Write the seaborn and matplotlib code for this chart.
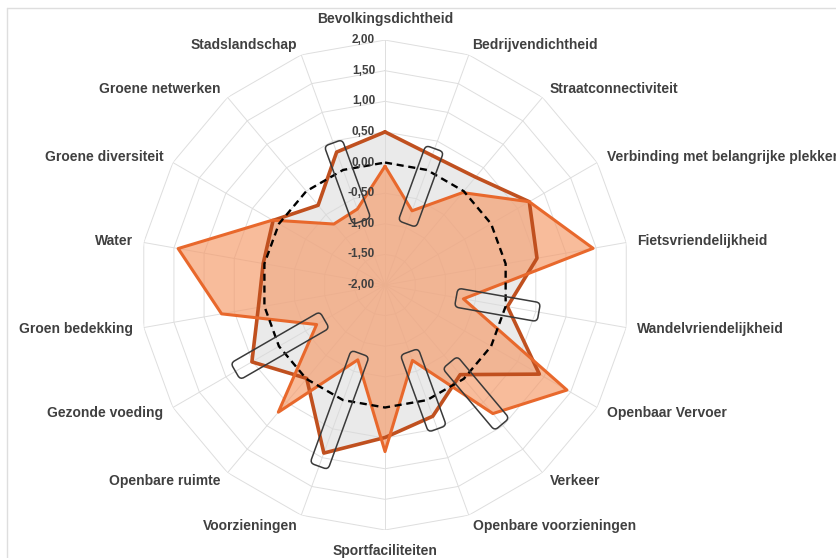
import matplotlib
matplotlib.use('Agg')

import numpy as np
import pandas as pd
import matplotlib.pyplot as plt
import seaborn as sns
from matplotlib.patches import FancyBboxPatch
from matplotlib.lines import Line2D
from matplotlib.transforms import Affine2D

# --- data ---
categorieen = [
    "Bevolkingsdichtheid", "Bedrijvendichtheid", "Straatconnectiviteit",
    "Verbinding met belangrijke plekken", "Fietsvriendelijkheid", "Wandelvriendelijkheid",
    "Openbaar Vervoer", "Verkeer", "Openbare voorzieningen", "Sportfaciliteiten",
    "Voorzieningen", "Openbare ruimte", "Gezonde voeding", "Groen bedekking",
    "Water", "Groene diversiteit", "Groene netwerken", "Stadslandschap",
]
reeks_donker = [0.50, 0.25, 0.30, 0.72, 0.52, 0.03, 0.91, -0.09, 0.28,
                0.49, 0.92, -0.01, 0.51, 0.10, 0.02, 0.11, -0.30, 0.31]
reeks_oranje = [-0.06, -0.71, -0.03, 0.72, 1.45, -0.70, 1.43, 0.74, -0.69,
                0.72, -0.70, 0.71, -0.71, 0.71, 1.43, 0.12, -0.70, -0.68]
gemiddelde = [0.0] * 18

ring_waarden = [2.0, 1.5, 1.0, 0.5, 0.0, -0.5, -1.0, -1.5, -2.0]
ring_labels = ["2,00", "1,50", "1,00", "0,50", "0,00", "-0,50", "-1,00", "-1,50", "-2,00"]

# omkaderde punten: categorie-index en bereik langs de as
kader_index = [17, 1, 5, 7, 8, 10, 12]
kader_van = [-0.89, -0.94, -0.82, -0.35, -0.84, -0.81, -0.86]
kader_tot = [0.47, 0.37, 0.55, 0.97, 0.50, 1.15, 0.82]


def gesloten(waarden):
    return list(waarden) + [waarden[0]]


n = len(categorieen)
hoeken = np.linspace(0, 2 * np.pi, n, endpoint=False)
hoeken_dicht = gesloten(hoeken)
hoeken_dicht[-1] = 2 * np.pi

df = pd.DataFrame({
    "hoek": hoeken_dicht,
    "donker": gesloten(reeks_donker),
    "oranje": gesloten(reeks_oranje),
    "gemiddelde": gesloten(gemiddelde),
})

sns.set_theme(style="white")
plt.rcParams['font.family'] = ['Liberation Sans', 'DejaVu Sans']

fig = plt.figure(figsize=(8.37, 5.58), dpi=100)
rect = [0.1673, 0.0502, 0.5854, 0.878]
ax = fig.add_axes(rect, projection='polar')
ax.set_theta_zero_location('N')
ax.set_theta_direction(-1)
ax.set_ylim(-2, 2)
ax.grid(False)
ax.set_xticks([])
ax.set_yticks([])
ax.spines['polar'].set_visible(False)
ax.patch.set_alpha(0)

# veelhoekig raster
grijs = "#DEDEDE"
for v in ring_waarden:
    ax.plot(hoeken_dicht, [v] * (n + 1), color=grijs, lw=0.7, zorder=0)
for h in hoeken:
    ax.plot([h, h], [-2, 2], color=grijs, lw=0.7, zorder=0)

# vlakken
ax.fill(df["hoek"], df["donker"], color="#D9D9D9", alpha=0.55, lw=0, zorder=1)
ax.fill(df["hoek"], df["oranje"], color="#F59C6C", alpha=0.68, lw=0, zorder=2)

# lijnen
sns.lineplot(data=df, x="hoek", y="donker", ax=ax, sort=False, estimator=None,
             color="#C0501F", lw=2.6, zorder=4, legend=False)
sns.lineplot(data=df, x="hoek", y="oranje", ax=ax, sort=False, estimator=None,
             color="#E8682C", lw=2.2, zorder=5, legend=False)
sns.lineplot(data=df, x="hoek", y="gemiddelde", ax=ax, sort=False, estimator=None,
             color="black", lw=1.7, linestyle=(0, (3, 2)), zorder=6, legend=False)
ax.set_xlabel("")
ax.set_ylabel("")

# as-labels langs de bovenste spaak
for v, lbl in zip(ring_waarden, ring_labels):
    ax.annotate(lbl, xy=(0, v), xytext=(-10, 0), textcoords='offset pixels',
                ha='right', va='center', fontsize=8.5, fontweight='bold',
                color="#404040", zorder=7)

# categorie-labels
for h, cat in zip(hoeken, categorieen):
    s, c = np.sin(h), np.cos(h)
    if abs(s) < 0.01:
        ha, pad = 'center', 21
    else:
        ha, pad = ('left' if s > 0 else 'right'), 11
    ax.annotate(cat, xy=(h, 2.0), xytext=(pad * s, pad * c), textcoords='offset pixels',
                ha=ha, va='center', fontsize=10, fontweight='bold', color="#404040",
                annotation_clip=False)

# kaders als overlay in cartesische coordinaten
ov = fig.add_axes(rect)
ov.set_xlim(-1, 1)
ov.set_ylim(-1, 1)
ov.axis('off')
ov.patch.set_alpha(0)
breedte = 0.078
for i, lo, hi in zip(kader_index, kader_van, kader_tot):
    r0, r1 = (lo + 2) / 4, (hi + 2) / 4
    graden = 90 - np.degrees(hoeken[i])
    kader = FancyBboxPatch((r0, -breedte / 2), r1 - r0, breedte,
                           boxstyle="round,pad=0,rounding_size=0.018",
                           fc='none', ec="#3A3A3A", lw=1.1,
                           transform=Affine2D().rotate_deg(graden) + ov.transData)
    ov.add_patch(kader)

# kader rond het grafiekgebied
fig.add_artist(Line2D([7 / 837, 1], [1 - 8 / 558] * 2, transform=fig.transFigure, color=grijs, lw=1))
fig.add_artist(Line2D([7 / 837] * 2, [0, 1 - 8 / 558], transform=fig.transFigure, color=grijs, lw=1))

fig.savefig("out.png", dpi=100)
plt.close(fig)
